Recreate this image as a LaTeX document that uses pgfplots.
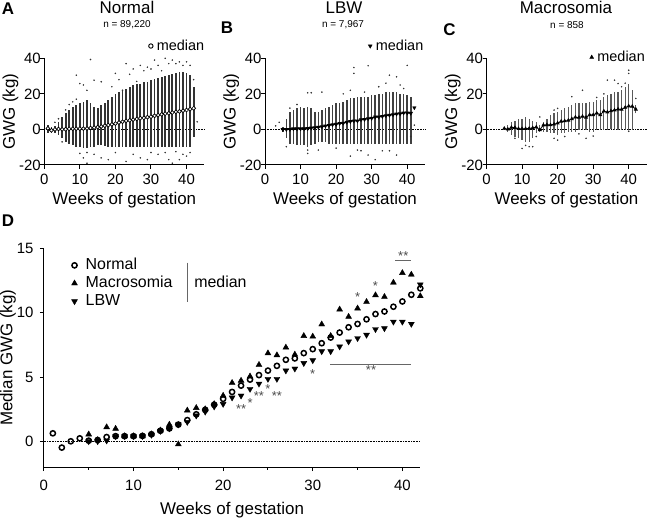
\documentclass[border=0pt]{standalone}
\usepackage{fontspec}
\setmainfont{Liberation Sans}
\usepackage{pgfplots}
\usepackage{pgfplotstable}
\pgfplotsset{compat=1.18}

% ---------- data ----------
\pgfplotstableread{
w v
1 0.62
2 -0.49
3 0.0
4 0.23
5 0.05
6 0.1
7 0.33
8 0.4
9 0.4
10 0.4
11 0.42
12 0.55
13 0.82
14 1.0
15 1.3
16 1.65
17 2.1
18 2.45
19 2.85
20 3.3
21 3.84
22 4.33
23 4.8
24 5.15
25 5.5
26 5.87
27 6.34
28 6.45
29 6.86
30 7.17
31 7.63
32 8.07
33 8.46
34 8.87
35 9.13
36 9.49
37 9.9
38 10.1
39 10.47
40 10.88
41 11.4
42 11.9
}\tabnormal

\pgfplotstableread{
w v
5 0.54
6 0.1
7 1.1
8 0.98
9 0.4
10 0.4
11 0.4
12 0.55
13 0.85
14 1.3
15 -0.23
16 2.4
17 2.6
18 2.5
19 2.9
20 3.55
21 4.55
22 4.72
23 5.05
24 5.95
25 6.85
26 6.7
27 7.3
28 6.75
29 8.2
30 8.15
31 9.1
32 8.2
33 10.26
34 9.69
35 10.34
36 10.85
37 11.37
38 11.24
39 12.35
40 13.1
41 12.97
42 11.3
}\tabmacro

\pgfplotstableread{
w v
5 0.0
6 0.0
7 0.05
8 0.4
9 0.4
10 0.4
11 0.4
12 0.5
13 0.8
14 1.0
15 1.3
16 1.5
17 2.0
18 2.3
19 2.7
20 2.9
21 3.4
22 3.55
23 4.07
24 4.48
25 4.85
26 4.85
27 5.5
28 5.65
29 6.08
30 6.3
31 7.0
32 7.0
33 7.37
34 7.76
35 8.02
36 8.28
37 8.72
38 8.79
39 9.3
40 9.3
41 9.13
}\tablbw

\pgfplotstableread{
w v
42 12.2
}\tablbwlast

% dense ranges of individual values, by week (low and high ends)
\pgfplotstableread{
w lo hi
1 -2 2.4
2 -1.9 1.5
3 -2.2 2.2
4 -3.2 4.3
5 -5 7
6 -7 9
7 -8 11
8 -9 12.7
9 -9.7 13.7
10 -10 14.6
11 -10.7 15.5
12 -10.7 16.5
13 -10 14.6
14 -9.7 12.7
15 -8.8 11.8
16 -8.8 13.7
17 -9.2 14.6
18 -9.7 16.5
19 -9.7 18.4
20 -10 20
21 -10 21
22 -10 22
23 -10 23
24 -10 24
25 -10 25
26 -10 25.8
27 -10 25.8
28 -10 26.8
29 -10 26.8
30 -10 27.7
31 -10 28.2
32 -10 28.7
33 -10 29.6
34 -10 30
35 -10 30.5
36 -10 31
37 -10 31.8
38 -10 32.4
39 -10 32.4
40 -10 31.8
41 -9.7 30.5
42 -4 24
}\colA

\pgfplotstableread{
w lo hi
5 -1.3 1.5
6 -5 6
7 -8 10
8 -8 11
9 -8.8 11.8
10 -8.8 12.7
11 -8.8 11.8
12 -9.7 12.7
13 -8.8 11.8
14 -8 10
15 -7 10
16 -7 11
17 -7 11.8
18 -8 12.7
19 -8 13.7
20 -8 14.6
21 -8 14.6
22 -8 15.5
23 -8 16.5
24 -8 17.4
25 -8.4 17.4
26 -8.4 18
27 -8.4 18.4
28 -8.4 18.4
29 -8.4 18.4
30 -8.4 19.3
31 -8.4 19.3
32 -8.4 20.2
33 -8.4 20.2
34 -8.4 21.2
35 -8.4 21.2
36 -8.4 21.2
37 -8.4 21.2
38 -8.4 20.2
39 -8.4 20.2
40 -8.4 19.3
41 -8 18.4
}\colB

\pgfplotstableread{
w lo hi
5 -0.4 0.8
6 -1.3 2.4
7 -3.2 4.3
8 -4 5
9 -5 6
10 -6 6
11 -7 7
12 -7 6
13 -5 5
14 -2.2 4.3
15 -1.3 2.4
16 -1.3 4.3
17 -1.3 6
18 -2.2 8
19 -2.2 9
20 -3 10
21 -2.2 10.9
22 -2.2 11.8
23 -1.3 12.7
24 -1.3 13.7
25 -1.3 14.6
26 -0.4 14.6
27 -0.4 14.6
28 -0.4 14.6
29 -1.3 15.5
30 -1.3 15.5
31 -0.4 16.5
32 -0.4 16.5
33 -0.4 18.4
34 -0.4 19.3
35 0 20
36 0.5 21
37 0.5 21
38 0.5 22
39 0.5 24
40 0.5 25.8
41 0.5 22
}\colC

\pgfplotsset{
  gpax/.style={
    scale only axis, clip=false,
    axis x line*=bottom, axis y line*=left,
    axis line style={line width=1bp, black},
    every tick/.style={line width=1bp, black},
    tick align=outside,
    major tick length=4bp, minor tick length=2.5bp,
    /pgf/number format/assume math mode=true,
    tick label style={font=\fontsize{15}{18}\selectfont},
    label style={font=\fontsize{17}{20}\selectfont},
    ylabel shift=-6bp,
    anchor=south west,
    legend cell align=left,
  },
  gptop/.style={
    gpax, width=160bp, height=106.7bp,
    xmin=0, xmax=45, ymin=-20, ymax=40,
    xtick={0,10,20,30,40}, ytick={-20,0,20,40},
    xticklabel style={yshift=-2bp}, yticklabel style={xshift=4bp},
    xlabel={Weeks of gestation}, ylabel={GWG (kg)},
    legend image code/.code={\draw[##1] plot coordinates {(0bp,0bp)}; \path (0bp,0bp) (4bp,0bp);},
    legend style={draw=none, fill=none, inner sep=0pt,
      font=\fontsize{14.5}{16}\selectfont,
      nodes={inner sep=1.5bp}},
  },
  gpoutl/.style={only marks, mark=*, mark size=0.55bp, black!80},
}

\begin{document}
\begin{tikzpicture}

% ---------------- A ----------------
\begin{axis}[gptop, at={(44.3bp,353bp)},
  legend style={at={(axis description cs:1.01,1.115)}, anchor=east}]
\addlegendimage{only marks, mark=o, mark size=2.2bp, line width=0.9bp}
\addlegendentry{median}
\addplot[black, densely dotted, line width=0.6bp, forget plot] coordinates {(0,0) (45,0)};
\addplot[ycomb, black!80, line width=1.8bp, forget plot] table[x=w, y=hi] {\colA};
\addplot[ycomb, black!80, line width=1.8bp, forget plot] table[x=w, y=lo] {\colA};
\addplot[gpoutl, forget plot] coordinates {(13,39.3) (9,30.5) (10,25.8) (11,25) (14,27.7) (16,26.8) (20,31.5) (23,37) (25,34) (27,36) (29,35) (31,39) (34,40) (36,39) (37,37) (40,38) (8,15.5) (43,4.3) (11,-16) (12,-19) (16,-16) (18,-17) (23,-18) (27,-16) (29,-17) (35,-17) (36,-19) (38,-17) (40,-15) (5,-7) (10,-13.5) (22,22) (26,27) (33,33) (38,38) (12,22) (12,-13) (14,-14) (20,-13) (25,-14) (30,-13) (32,-14) (34,-13) (37,-12.5) (39,-14) (41,-13) (3,4) (4,6) (6,11) (7,14) (9,17) (19,24) (21,28) (24,31) (28,33) (30,34) (32,36) (35,37) (39,36) (41,36) (42,28)};
\addplot[black, line width=0.6bp, mark=*, mark size=1.9bp, mark options={fill=white, draw=black, line width=0.7bp}, forget plot] table[x=w, y=v] {\tabnormal};
\end{axis}

% ---------------- B ----------------
\begin{axis}[gptop, at={(265bp,353bp)},
  legend style={at={(axis description cs:1.0,1.115)}, anchor=east}]
\addlegendimage{only marks, mark=triangle*, mark options={rotate=180}, mark size=2.2bp}
\addlegendentry{median}
\addplot[black, densely dotted, line width=0.6bp, forget plot] coordinates {(0,0) (45,0)};
\addplot[ycomb, black!75, line width=1.6bp, forget plot] table[x=w, y=hi] {\colB};
\addplot[ycomb, black!75, line width=1.6bp, forget plot] table[x=w, y=lo] {\colB};
\addplot[gpoutl, forget plot] coordinates {(4,4) (6,-9.7) (12,20.6) (13,20.6) (16,21) (25,34.8) (29,35.8) (25,31.5) (40,36) (35,30.5) (37,29.6) (26,-11.6) (31,-17) (29,-14.4) (24,-15) (37,-14.4) (12,-13.5) (12,-11.6) (15,-11.6) (42,2.4) (41,-4) (24,22) (32,24) (34,26) (38,25) (39,23) (22,20) (28,21) (33,-12) (35,-12) (20,-10.5) (27,-12) (7,12) (9,14) (3,2)};
\addplot[black, line width=1.1bp, mark=triangle*, mark size=1.5bp, mark options={rotate=180}, forget plot] table[x=w, y=v] {\tablbw};
\addplot[black, only marks, mark=triangle*, mark size=2bp, mark options={rotate=180}, forget plot] table[x=w, y=v] {\tablbwlast};
\end{axis}

% ---------------- C ----------------
\begin{axis}[gptop, at={(486.5bp,353bp)},
  legend style={at={(axis description cs:1.0,1.01)}, anchor=east}]
\addlegendimage{only marks, mark=triangle*, mark size=2.2bp}
\addlegendentry{median}
\addplot[black, densely dotted, line width=0.6bp, forget plot] coordinates {(0,0) (45,0)};
\addplot[ycomb, black!65, line width=1.2bp, forget plot] table[x=w, y=hi] {\colC};
\addplot[ycomb, black!65, line width=1.2bp, forget plot] table[x=w, y=lo] {\colC};
\addplot[black!65, line width=1.2bp, forget plot] coordinates {(42,9) (42,13.7)};
\addplot[gpoutl, forget plot] coordinates {(40,33.3) (40,31.5) (34,27.7) (36,27.7) (37,25.8) (27,22) (24,18.4) (20,11.8) (19,10.9) (42,17.4) (10,-10.7) (12,-9.7) (13,-9.7) (20,-6) (19,-5) (28,-5) (30,-3.7) (8,-5) (15,7) (39,26) (38,24) (33,20) (31,18) (22,-4) (11,-9) (40,-1) (14,-4) (26,-2.5)};
\addplot[black, line width=0.8bp, mark=triangle*, mark size=1.6bp, forget plot] table[x=w, y=v] {\tabmacro};
\end{axis}

% ---------------- D ----------------
\begin{axis}[gpax, at={(43.9bp,51bp)}, width=376.4bp, height=218.5bp,
  xmin=0, xmax=42, ymin=-2, ymax=15,
  xtick={0,10,20,30,40}, minor xtick={5,15,25,35}, ytick={0,5,10,15},
  xticklabel style={yshift=-6bp}, yticklabel style={xshift=-3bp},
  xlabel={Weeks of gestation}, ylabel={Median GWG (kg)},
  xlabel style={yshift=-4bp},
  legend image code/.code={\draw[#1] plot coordinates {(0bp,0bp)}; \path (0bp,0bp) (10bp,0bp);},
  legend style={at={(axis description cs:0.073,0.965)}, anchor=north west,
    draw=none, fill=none, inner sep=0pt, row sep=0pt,
    font=\fontsize{16}{18}\selectfont,
    nodes={inner sep=1bp, text height=12bp, text depth=4bp}},
]
\addplot[black, densely dotted, line width=0.6bp, forget plot] coordinates {(0,0) (42,0)};
\addplot[only marks, mark=o, mark size=2.6bp, mark options={line width=1.5bp, black}] table[x=w, y=v] {\tabnormal};
\addplot[only marks, mark=triangle*, mark size=3.4bp, black] table[x=w, y=v] {\tabmacro};
\addplot[only marks, mark=triangle*, mark size=3.4bp, mark options={rotate=180}, black] table[x=w, y=v] {\tablbw};
\addplot[only marks, mark=triangle*, mark size=3.4bp, mark options={rotate=180}, black, forget plot] table[x=w, y=v] {\tablbwlast};
\legend{Normal, Macrosomia, LBW}
\draw[black!60, line width=0.8bp] (axis description cs:0.380,0.935) -- (axis description cs:0.380,0.755);
\node[anchor=west, inner sep=0pt, font=\fontsize{16}{18}\selectfont] at (axis description cs:0.399,0.847) {median};
% significance marks
\draw[black!60, line width=0.6bp] (axis cs:39.2,14.1) -- (axis cs:41,14.1);
\draw[black!60, line width=0.6bp] (axis cs:31.9,6.0) -- (axis cs:41,6.0);
\begin{scope}[every node/.style={inner sep=0pt, font=\fontsize{13}{13}\selectfont, text=black!70, yshift=-2.5bp}]
\node at (axis cs:22,2.7) {**};
\node at (axis cs:23,3.2) {*};
\node at (axis cs:24,3.75) {**};
\node at (axis cs:25,4.25) {*};
\node at (axis cs:26,3.75) {**};
\node at (axis cs:30,5.4) {*};
\node at (axis cs:35,11.45) {*};
\node at (axis cs:37,12.3) {*};
\node at (axis cs:40.1,14.6) {**};
\node at (axis cs:36.5,5.75) {**};
\end{scope}
\end{axis}

% ---------------- titles and panel letters ----------------
\begin{scope}[every node/.style={inner sep=0pt}]
\node[font=\fontsize{17}{20}\selectfont\bfseries] at (8bp,509.5bp) {A};
\node[font=\fontsize{17}{20}\selectfont\bfseries] at (227bp,490bp) {B};
\node[font=\fontsize{17}{20}\selectfont\bfseries] at (449.5bp,488bp) {C};
\node[font=\fontsize{17}{20}\selectfont\bfseries] at (8bp,297bp) {D};
\node[font=\fontsize{17}{20}\selectfont] at (127bp,510.5bp) {Normal};
\node[font=\fontsize{10}{12}\selectfont] at (127bp,493bp) {n = 89,220};
\node[font=\fontsize{17}{20}\selectfont] at (344bp,510.5bp) {LBW};
\node[font=\fontsize{10}{12}\selectfont] at (343bp,493bp) {n = 7,967};
\node[font=\fontsize{17}{20}\selectfont] at (566bp,510.5bp) {Macrosomia};
\node[font=\fontsize{10}{12}\selectfont] at (567bp,493bp) {n = 858};
\end{scope}
\pgfresetboundingbox
\path[use as bounding box] (0bp,0bp) rectangle (647bp,518bp);
\end{tikzpicture}
\end{document}
